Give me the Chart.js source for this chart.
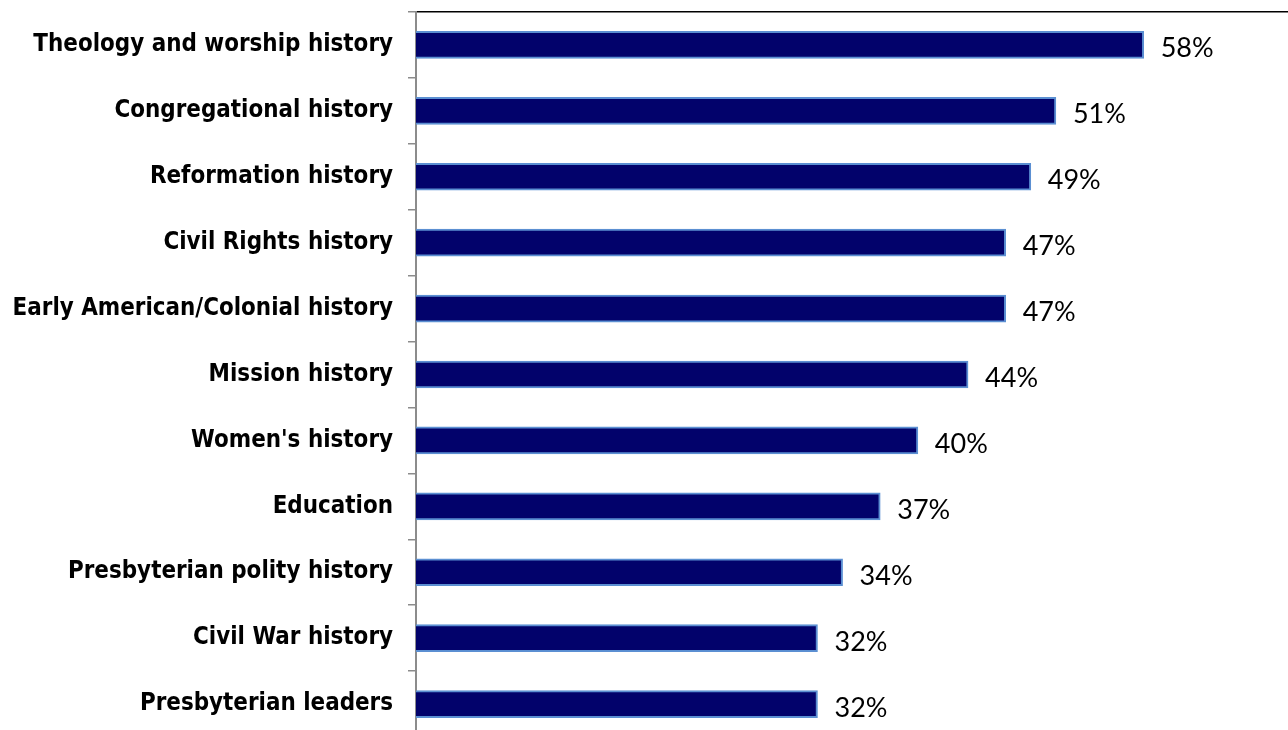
<!DOCTYPE html>
<html>
<head>
<meta charset="utf-8">
<script src="https://cdn.jsdelivr.net/npm/chart.js@4/dist/chart.umd.min.js"></script>
<style>
  html, body { margin: 0; padding: 0; background: #ffffff; overflow: hidden; }
  #wrap { width: 1288px; height: 730px; overflow: hidden; }
</style>
</head>
<body>
<div id="wrap"><canvas id="c" width="1288" height="740"></canvas></div>
<script>
const categories = [
  "Theology and worship history",
  "Congregational history",
  "Reformation history",
  "Civil Rights history",
  "Early American/Colonial history",
  "Mission history",
  "Women's history",
  "Education",
  "Presbyterian polity history",
  "Civil War history",
  "Presbyterian leaders"
];
const percentValues = [58, 51, 49, 47, 47, 44, 40, 37, 34, 32, 32];

const valueLabels = {
  id: 'valueLabels',
  afterDatasetsDraw(chart) {
    const ctx = chart.ctx;
    const meta = chart.getDatasetMeta(0);
    ctx.save();
    ctx.font = "27px Lato, 'Open Sans', sans-serif";
    ctx.fillStyle = '#000000';
    ctx.textAlign = 'left';
    ctx.textBaseline = 'alphabetic';
    meta.data.forEach((bar, i) => {
      ctx.fillText(percentValues[i] + '%', bar.x + 17, bar.y + 12.5);
    });
    ctx.restore();
  }
};

new Chart(document.getElementById('c'), {
  type: 'bar',
  data: {
    labels: categories,
    datasets: [{
      data: percentValues,
      backgroundColor: '#02026b',
      borderColor: '#5b8fd2',
      borderWidth: 2,
      barThickness: 27
    }]
  },
  options: {
    indexAxis: 'y',
    responsive: false,
    animation: false,
    layout: { autoPadding: false, padding: { top: 12, right: 0, bottom: 3, left: 0 } },
    plugins: {
      legend: { display: false },
      tooltip: { enabled: false }
    },
    scales: {
      x: {
        position: 'top',
        min: 0,
        max: 69.5,
        ticks: { display: false },
        grid: { display: false, drawTicks: false, drawOnChartArea: false },
        border: { display: true, color: '#000000', width: 1.5 }
      },
      y: {
        ticks: {
          color: '#000000',
          padding: 15,
          font: { family: "'DejaVu Sans Condensed', 'DejaVu Sans', sans-serif", weight: 'bold', size: 23.9 }
        },
        grid: {
          drawOnChartArea: false,
          drawTicks: true,
          tickLength: 8,
          color: '#8c8c8c',
          lineWidth: 1.5
        },
        border: { display: true, color: '#8c8c8c', width: 2 },
        afterFit(scale) { scale.width = 416; scale.paddingTop = 0; scale.paddingBottom = 0; }
      }
    }
  },
  plugins: [valueLabels]
});
</script>
</body>
</html>
